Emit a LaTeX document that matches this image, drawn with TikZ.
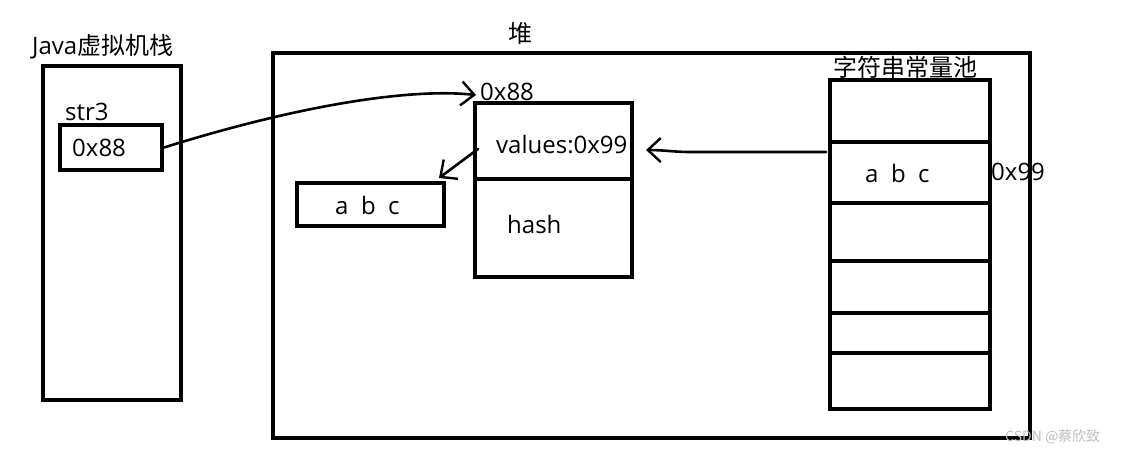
\documentclass[tikz,border=0pt]{standalone}
\usepackage{fontspec}
\setmainfont{Open Sans}
\newfontfamily\cjk{Noto Sans CJK SC}
\usetikzlibrary{arrows.meta}
\tikzset{
  box/.style={draw, line width=4pt, inner sep=0pt},
  lbl/.style={inner sep=0pt, anchor=base west, font=\fontsize{24}{28}\selectfont},
  conn/.style={line width=2.6pt, line cap=round, -{Straight Barb[length=13pt,width=24pt,line width=2.4pt]}},
  divider/.style={line width=4pt}
}
\begin{document}
\begin{tikzpicture}[x=1pt,y=-1pt]
\useasboundingbox[fill=white] (0,0) rectangle (1123,453);
% boxes
\node[box, minimum width=138pt, minimum height=334pt] (stack) at (112,233) {};
\node[box, minimum width=102pt, minimum height=45pt] (in) at (111,147.5) {};
\node[box, minimum width=757pt, minimum height=385pt] (heap) at (651.5,245.5) {};
\node[box, minimum width=157pt, minimum height=174pt] (obj) at (553.5,190) {};
\node[box, minimum width=147pt, minimum height=43pt] (abc) at (370.5,204.5) {};
\node[box, minimum width=160pt, minimum height=329pt] (pool) at (910,244.5) {};
\draw[divider] (475,179) -- (632,179);
\foreach \yy in {142,203,261,313,353} \draw[divider] (830,\yy) -- (990,\yy);
% labels
\node[lbl] (t1) at (32,54) {Java{\cjk 虚拟机栈}};
\node[lbl] (t2) at (65,120) {str3};
\node[lbl] (t3) at (72,156) {0x88};
\node[lbl] (t4) at (508,42) {\cjk 堆};
\node[lbl] (t5) at (480,100) {0x88};
\node[lbl] (t6) at (496,153) {values:0x99};
\node[lbl] (t7) at (507,233) {hash};
\node[lbl] (t8) at (335,214) {a\ \ b\ \ c};
\node[lbl] (t9) at (833,76) {\cjk 字符串常量池};
\node[lbl] (t10) at (865,182) {a\ \ b\ \ c};
\node[lbl] (t11) at (991,180) {0x99};
\node[inner sep=0pt, anchor=base west, text=black!25, font=\cjk\fontsize{14}{16}\selectfont] (wm) at (1005,441) {CSDN @蔡欣致};
% connectors
\draw[conn] (in.east) .. controls (300,105) and (410,88) .. ([shift={(3,-6)}]obj.north west);
\draw[conn] ([shift={(5,48)}]obj.north west) -- ([shift={(-7,-3)}]abc.north east);
\draw[conn] ([shift={(-2,-92.5)}]pool.west) -- ++(-135,0) to[out=180,in=0] ([shift={(12,-40)}]obj.east);
\end{tikzpicture}
\end{document}
